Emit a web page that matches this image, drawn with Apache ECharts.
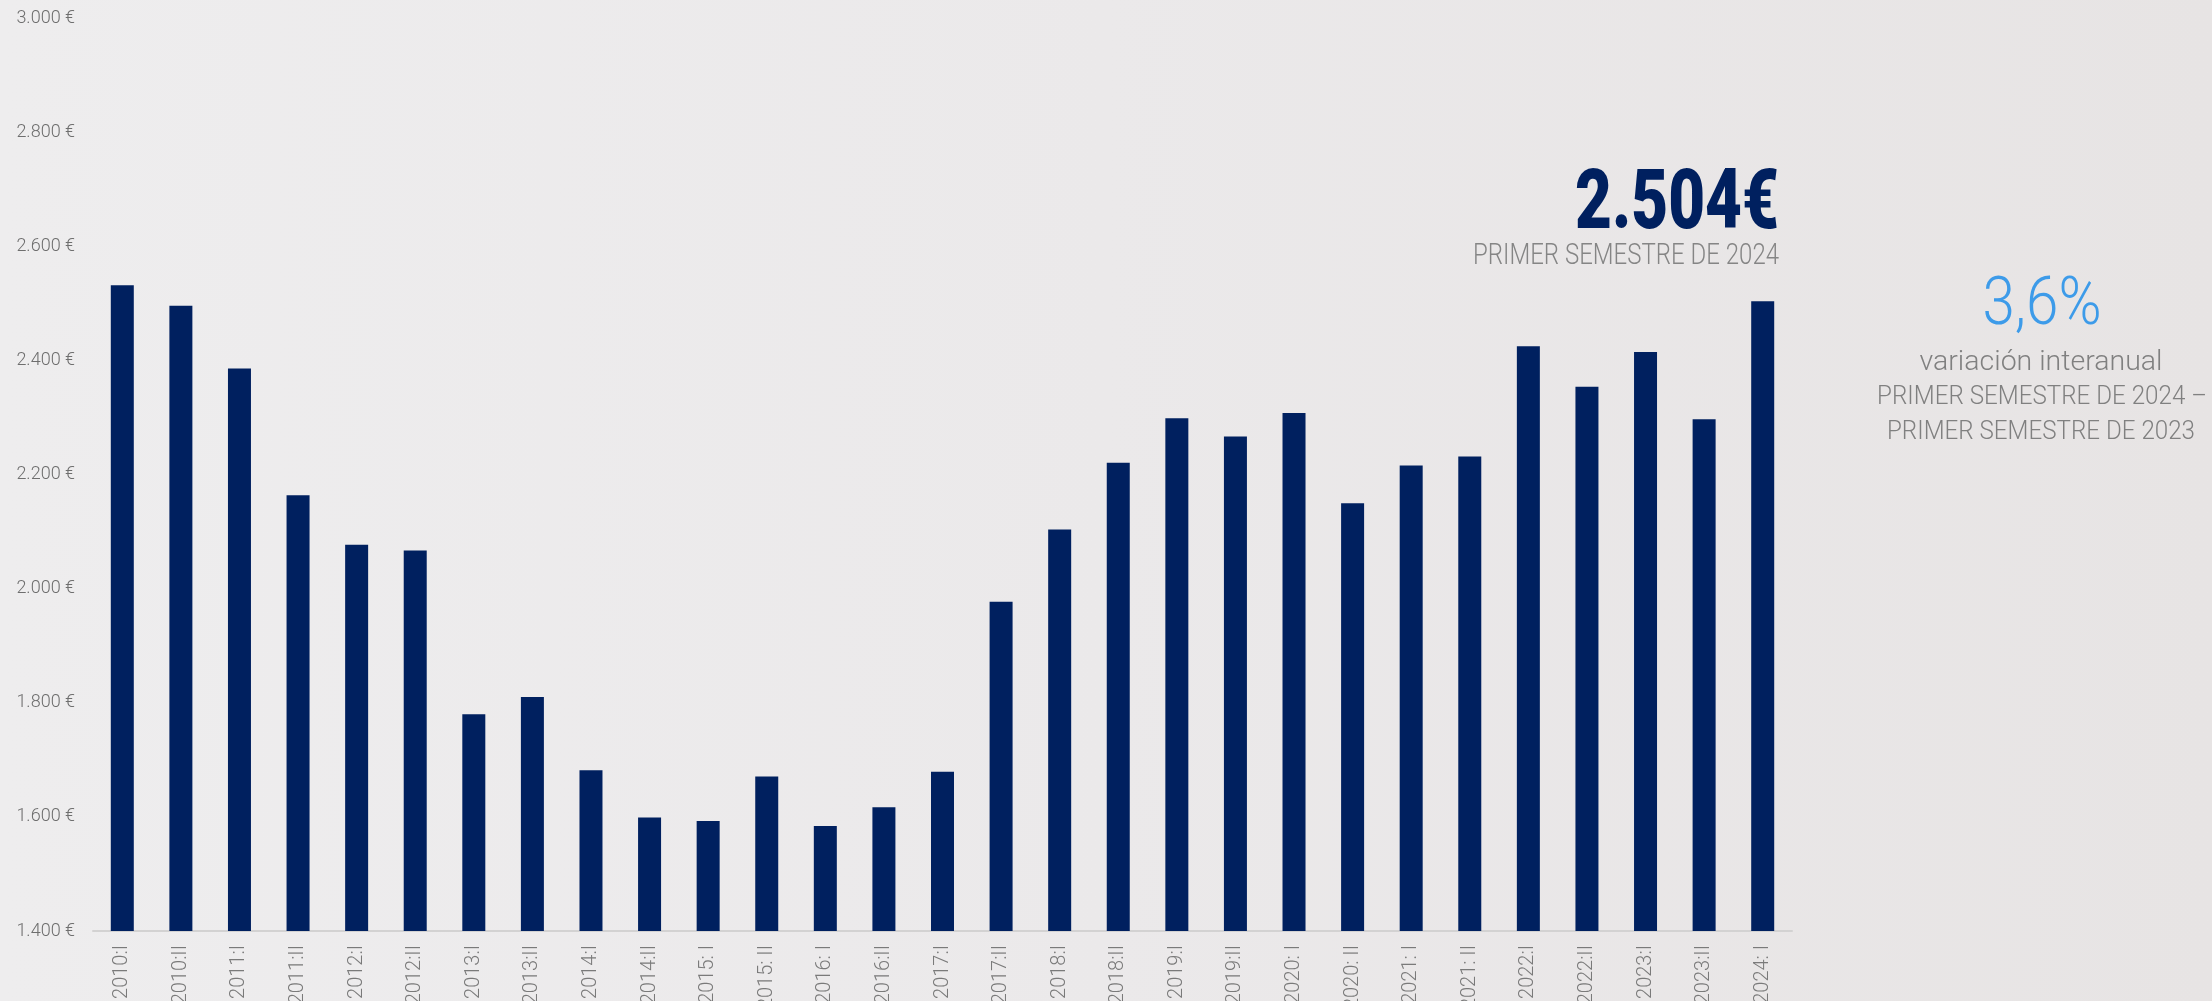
<!DOCTYPE html>
<html>
<head>
<meta charset="utf-8">
<script src="https://cdn.jsdelivr.net/npm/echarts@6/dist/echarts.min.js"></script>
<style>
  html, body { margin: 0; padding: 0; width: 2212px; height: 1001px; overflow: hidden; }
  #chart { width: 2212px; height: 1001px; }
</style>
</head>
<body>
<div id="chart"></div>
<script>
const categories = [
  "2010:I", "2010:II", "2011:I", "2011:II", "2012:I", "2012:II",
  "2013:I", "2013:II", "2014:I", "2014:II", "2015: I", "2015: II",
  "2016: I", "2016:II", "2017:I", "2017:II", "2018:I", "2018:II",
  "2019:I", "2019:II", "2020: I", "2020: II", "2021: I", "2021: II",
  "2022:I", "2022:II", "2023:I", "2023:II", "2024: I"
];
const salaries = [
  2532, 2496, 2386, 2164, 2077, 2067,
  1780, 1810, 1682, 1599, 1593, 1671,
  1584, 1617, 1679, 1977, 2104, 2221,
  2299, 2267, 2308, 2150, 2216, 2232,
  2425, 2354, 2415, 2297, 2504
];
const yMin = 1400, yMax = 3000, yStep = 200;
const headline = "2.504€";
const headlineSub = "PRIMER SEMESTRE DE 2024";
const changeValue = "3,6%";
const changeLines = ["variación interanual", "PRIMER SEMESTRE DE 2024 –", "PRIMER SEMESTRE DE 2023"];

function fmtEuro(v) {
  const s = String(Math.round(v));
  return s.replace(/\B(?=(\d{3})+(?!\d))/g, ".") + " €";
}

const mctx = document.createElement("canvas").getContext("2d");
function fit(text, font, target) {
  mctx.font = font;
  const w = mctx.measureText(text).width;
  return w > 0 ? target / w : 1;
}

function txt(text, x, y, font, fill, align, targetWidth) {
  return {
    type: "text", x: x, y: y, z: 10, silent: true,
    scaleX: fit(text, font, targetWidth),
    style: { text: text, font: font, fill: fill, align: align, verticalAlign: "middle" }
  };
}

const chart = echarts.init(document.getElementById("chart"), null, { renderer: "canvas" });

const fHead = "900 84px Roboto";
const fSub = "300 29px Roboto";
const fPct = "300 66px Roboto";
const fLine = "300 26px Roboto";

chart.setOption({
  animation: false,
  backgroundColor: "#ebe9ea",
  graphic: [
    {
      type: "rect", z: -10, silent: true,
      shape: { x: 0, y: 0, width: 2212, height: 1001 },
      style: {
        fill: {
          type: "linear", x: 0, y: 0, x2: 1, y2: 0,
          colorStops: [
            { offset: 0, color: "#eeedee" },
            { offset: 0.5, color: "#ebe9ea" },
            { offset: 1, color: "#e7e4e4" }
          ]
        }
      }
    },
    txt(headline, 1779, 207, fHead, "#00205f", "right", 204),
    txt(headlineSub, 1779, 257, fSub, "#858585", "right", 306),
    txt(changeValue, 2042, 307, fPct, "#3d9be9", "center", 119),
    txt(changeLines[0], 2041, 363, "300 28px Roboto", "#808080", "center", 243),
    txt(changeLines[1], 2042, 397, fLine, "#808080", "center", 330),
    txt(changeLines[2], 2041, 432, fLine, "#808080", "center", 308)
  ],
  grid: { left: 93, right: 420, top: 18.3, bottom: 70, containLabel: false, outerBoundsMode: "none" },
  xAxis: {
    type: "category",
    data: categories,
    boundaryGap: true,
    axisLine: { show: true, lineStyle: { color: "#d3d2d2", width: 2 } },
    axisTick: { show: false },
    axisLabel: {
      rotate: 90, interval: 0, margin: 14,
      color: "#7a7a7a", fontFamily: "Roboto", fontWeight: 300, fontSize: 20
    },
    splitLine: { show: false }
  },
  yAxis: {
    type: "value",
    min: yMin, max: yMax, interval: yStep,
    axisLine: { show: false },
    axisTick: { show: false },
    splitLine: { show: false },
    axisLabel: {
      margin: 18, color: "#6e6e6e", fontFamily: "Roboto", fontWeight: 300, fontSize: 18,
      formatter: fmtEuro
    }
  },
  series: [{
    type: "bar",
    data: salaries,
    barWidth: 23,
    itemStyle: { color: "#00205f" },
    silent: true
  }]
});
</script>
</body>
</html>
